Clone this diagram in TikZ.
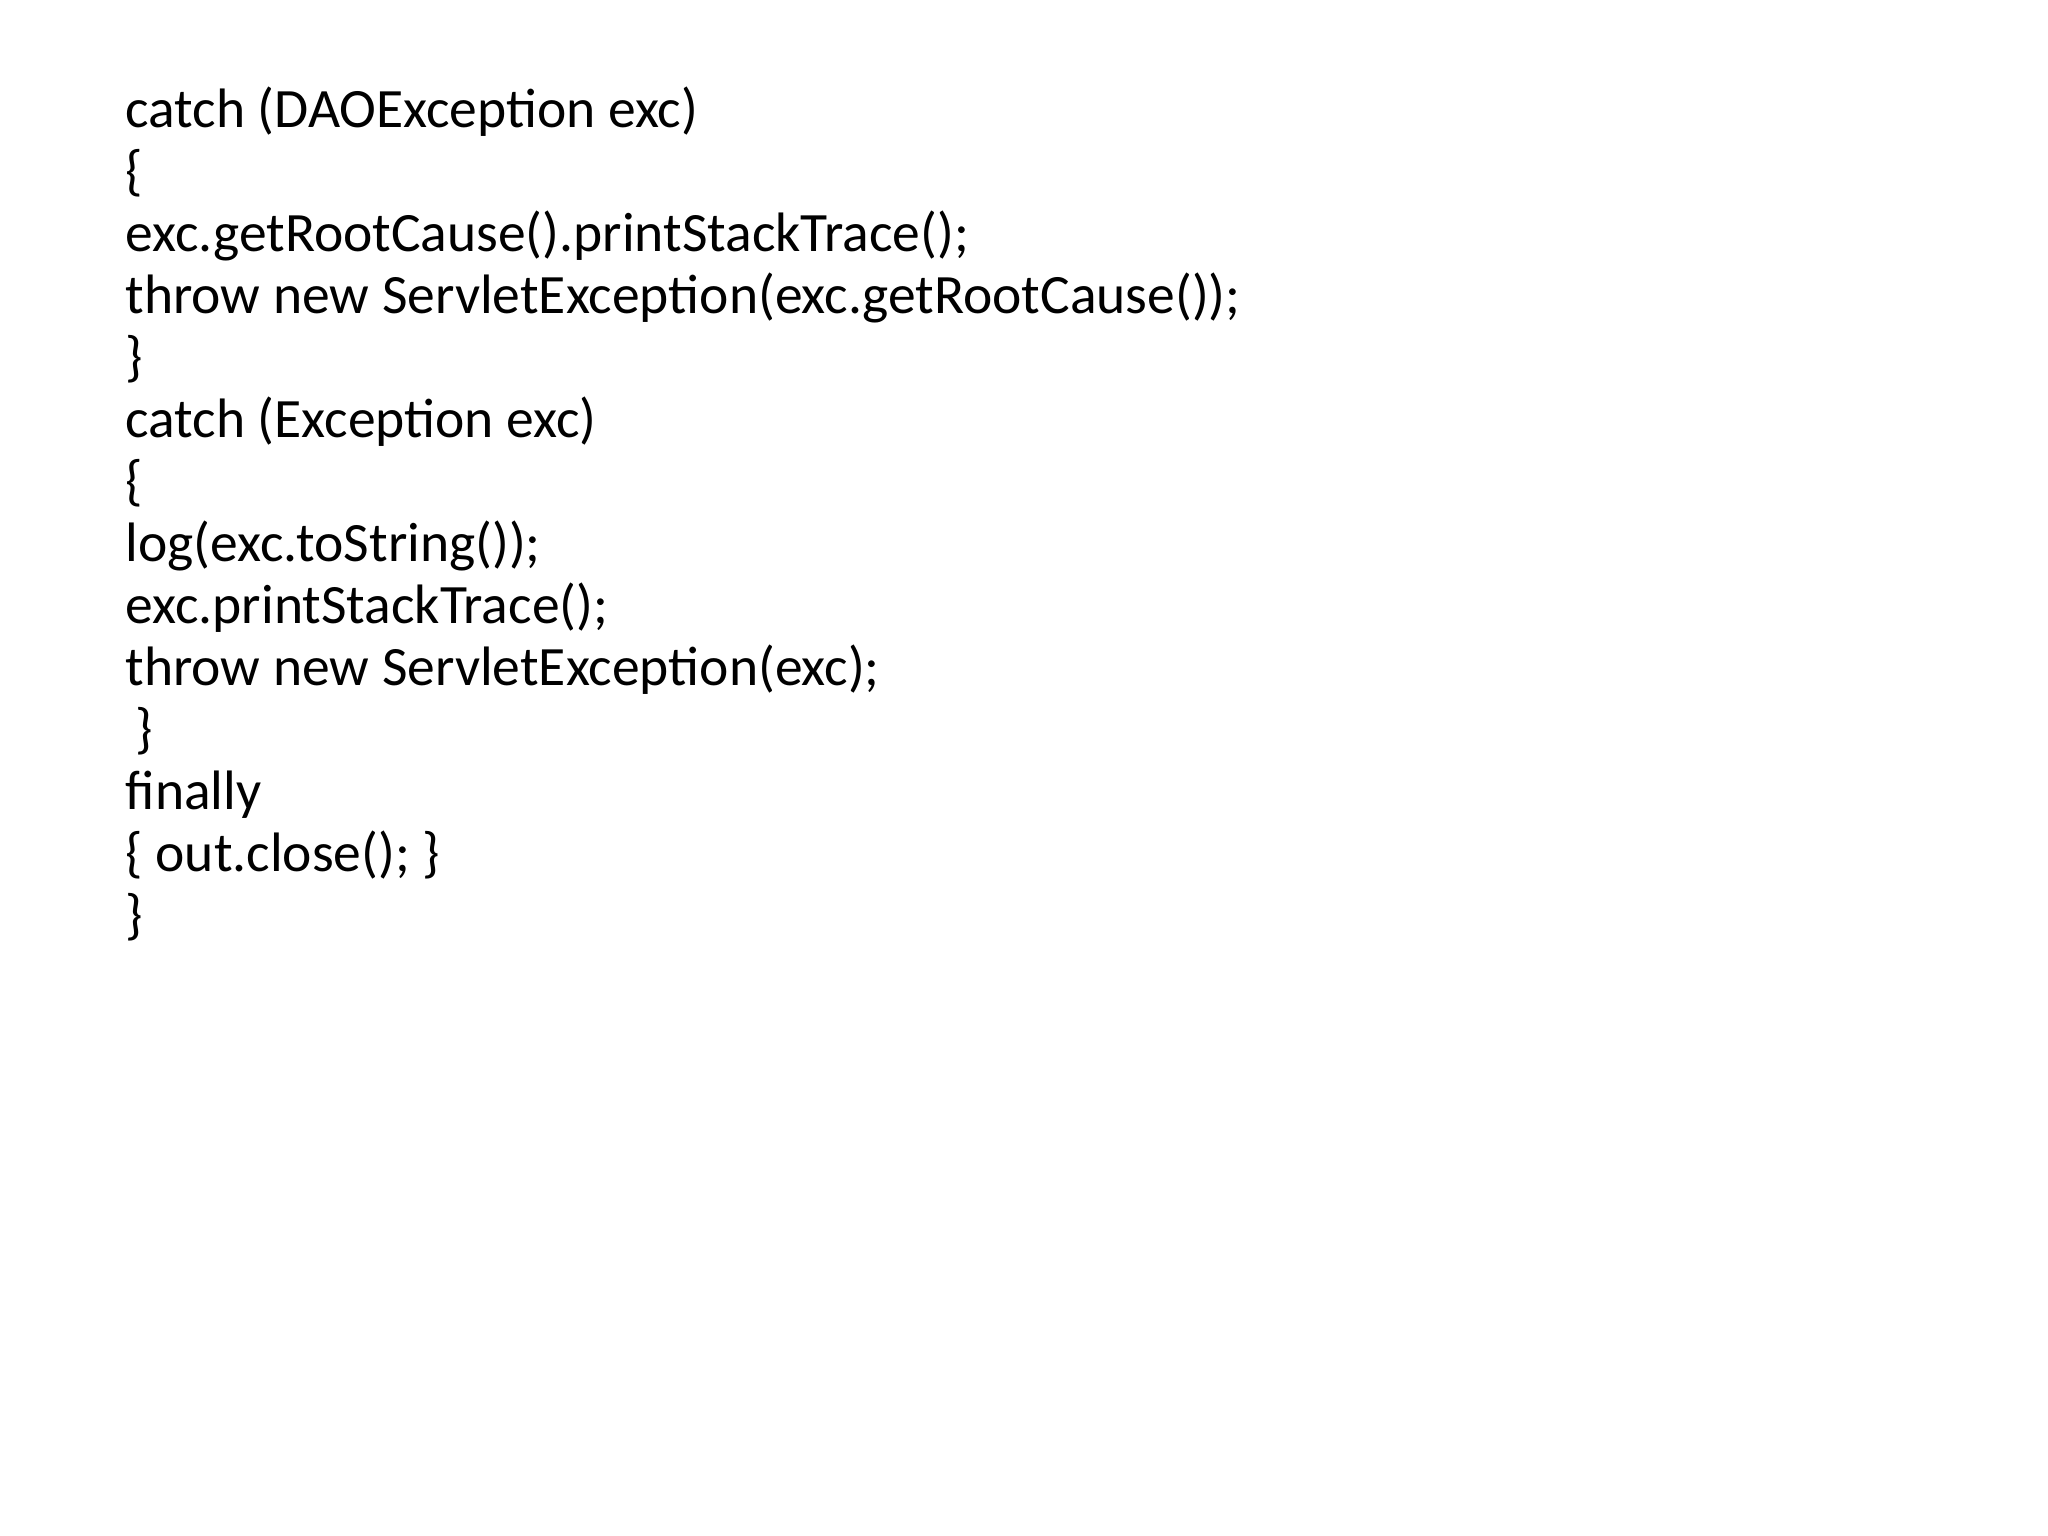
\documentclass[tikz,border=0pt]{standalone}
\usepackage{fontspec}
\setmainfont{Carlito}
\begin{document}
\begin{tikzpicture}[x=1cm,y=1cm,ln/.style={anchor=base west,inner sep=0pt,font=\fontsize{15.8}{19}\selectfont}]
\useasboundingbox[fill=white] (0,0) rectangle (20.48,15.36);
\foreach \t [count=\i] in {catch (DAOException exc),\{,exc.getRootCause().printStackTrace();,throw new ServletException(exc.getRootCause());,\},catch (Exception exc),\{,log(exc.toString());,exc.printStackTrace();,throw new ServletException(exc);,\hspace{0.1cm}\},finally,\{ out.close(); \},\}}
  \node[ln] (l\i) at (1.25,{15.36-1.28-(\i-1)*0.62}) {\t};
\end{tikzpicture}
\end{document}
